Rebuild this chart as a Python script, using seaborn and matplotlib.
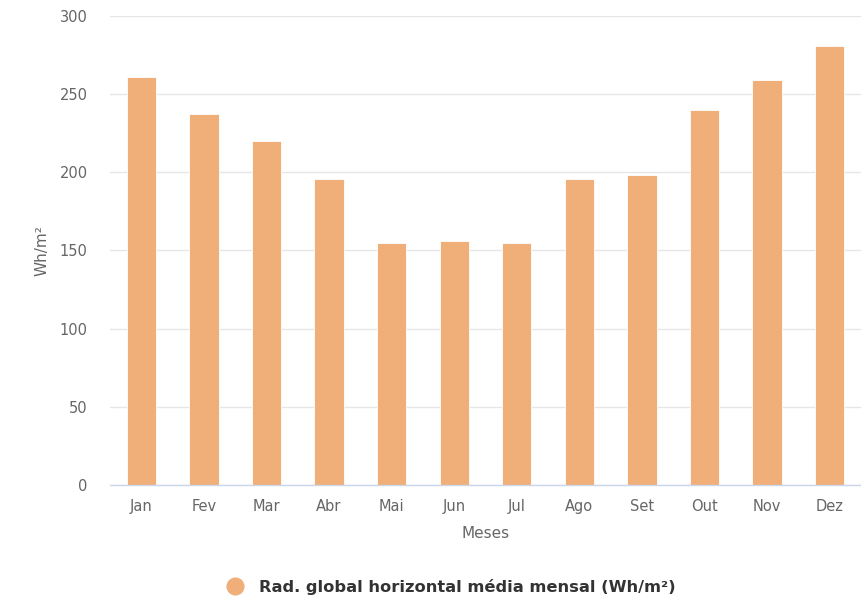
import matplotlib
matplotlib.use("Agg")
import matplotlib.pyplot as plt
from matplotlib.lines import Line2D
import seaborn as sns
import pandas as pd

meses = ["Jan", "Fev", "Mar", "Abr", "Mai", "Jun", "Jul", "Ago", "Set", "Out", "Nov", "Dez"]
radiacao = [261, 237, 220, 196, 155, 156, 155, 196, 198, 240, 259, 281]
yticks = [0, 50, 100, 150, 200, 250, 300]

bar_color = "#F0AE78"
text_color = "#666666"

sns.set_theme(style="white")
plt.rcParams["font.family"] = ["DejaVu Sans"]

df = pd.DataFrame({"Meses": meses, "Rad": radiacao})

fig = plt.figure(figsize=(8.61, 5.99), dpi=100)
ax = fig.add_axes([110 / 861, 1 - 485 / 599, 751 / 861, 469 / 599])

sns.barplot(data=df, x="Meses", y="Rad", color=bar_color, width=0.47,
            saturation=1, edgecolor="white", linewidth=0.6, ax=ax, zorder=3)

ax.set_ylim(0, 300)
ax.set_xlim(-0.5, 11.5)
ax.set_yticks(yticks)
ax.yaxis.grid(True, color="#e6e6e6", linewidth=1, zorder=0)
ax.xaxis.grid(False)
for side in ["top", "right", "left"]:
    ax.spines[side].set_visible(False)
ax.spines["bottom"].set_color("#ccd6eb")
ax.spines["bottom"].set_linewidth(1)
ax.spines["bottom"].set_zorder(4)

ax.tick_params(axis="both", length=0, labelsize=10.5, labelcolor=text_color)
ax.tick_params(axis="x", pad=10)
ax.tick_params(axis="y", pad=16)

ax.set_xlabel("Meses", fontsize=11, color=text_color, labelpad=9)
ax.set_ylabel("Wh/m²", fontsize=11, color=text_color, labelpad=7)

handle = Line2D([], [], marker="o", linestyle="", markersize=12,
                markerfacecolor=bar_color, markeredgecolor=bar_color)
fig.legend([handle], ["Rad. global horizontal média mensal (Wh/m²)"],
           loc="center", bbox_to_anchor=(447 / 861, 1 - 587 / 599),
           frameon=False, handletextpad=0.5,
           prop={"size": 11.7, "weight": "bold"}, labelcolor="#333333")

fig.savefig("out.png", dpi=100)
